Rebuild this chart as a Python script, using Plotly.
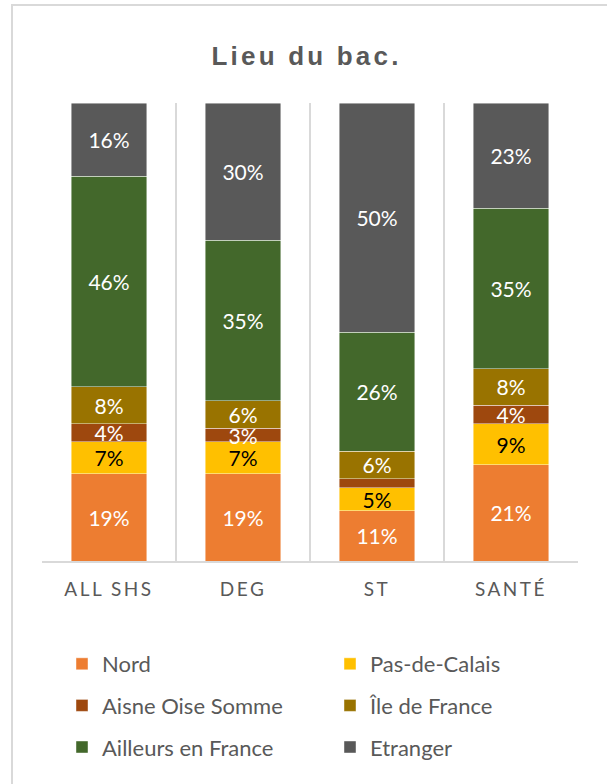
import plotly.graph_objects as go

categories = ["ALL SHS", "DEG", "ST", "SANTÉ"]
series_names = ["Nord", "Pas-de-Calais", "Aisne Oise Somme", "Île de France", "Ailleurs en France", "Etranger"]
nord = [19, 19, 11, 21]
pas_de_calais = [7, 7, 5, 9]
aisne_oise_somme = [4, 3, 2, 4]
ile_de_france = [8, 6, 6, 8]
ailleurs_en_france = [46, 35, 26, 35]
etranger = [16, 30, 50, 23]
# which segments carry a data label in the source
show_label = [
    [True, True, True, True],
    [True, True, True, True],
    [True, True, False, True],
    [True, True, True, True],
    [True, True, True, True],
    [True, True, True, True],
]

series_values = [nord, pas_de_calais, aisne_oise_somme, ile_de_france, ailleurs_en_france, etranger]
colors = ["#ED7D31", "#FFC000", "#9E480E", "#997300", "#43682B", "#595959"]
text_colors = ["white", "black", "white", "white", "white", "white"]
legend_ids = ["legend", "legend2", "legend", "legend2", "legend", "legend2"]

FONT = "Lato"
GRAY = "#595959"

fig = go.Figure()
for i, (name, vals) in enumerate(zip(series_names, series_values)):
    labels = [f"{v}%" if s else "" for v, s in zip(vals, show_label[i])]
    fig.add_trace(go.Bar(
        name=name,
        x=categories,
        y=vals,
        text=labels,
        textposition="inside",
        insidetextanchor="middle",
        textangle=0,
        constraintext="none",
        textfont=dict(family=FONT, size=21, color=text_colors[i]),
        marker=dict(color=colors[i], line=dict(color="rgba(255,255,255,0.55)", width=0.8)),
        legend=legend_ids[i],
        legendgroup=name,
        hoverinfo="skip",
    ))

legend_common = dict(
    orientation="v",
    traceorder="grouped",
    tracegroupgap=10,
    font=dict(family=FONT, size=22, color=GRAY),
    yanchor="top",
    xanchor="left",
    bgcolor="rgba(0,0,0,0)",
    itemwidth=30,
)

fig.update_layout(
    width=607,
    height=784,
    margin=dict(l=42, r=29, t=103, b=223),
    paper_bgcolor="white",
    plot_bgcolor="white",
    barmode="stack",
    bargap=0.44,
    title=dict(
        text="<b>Lieu du bac.</b>",
        x=0.505, xanchor="center",
        y=1 - 56 / 784, yanchor="middle",
        font=dict(family="Liberation Sans", size=26, color=GRAY),
    ),
    xaxis=dict(
        type="category",
        showgrid=True,
        tickson="boundaries",
        gridcolor="#D9D9D9",
        gridwidth=1.5,
        showline=True,
        linecolor="#D9D9D9",
        linewidth=1.5,
        ticks="",
        ticklabelstandoff=10,
        tickfont=dict(family=FONT, size=19, color=GRAY),
    ),
    yaxis=dict(visible=False, range=[0, 100], showgrid=False, zeroline=False),
    legend=dict(x=(62 - 42) / 536, y=(561 - 643) / 458, **legend_common),
    legend2=dict(x=(330 - 42) / 536, y=(561 - 643) / 458, **legend_common),
    showlegend=True,
    shapes=[dict(
        type="rect", xref="paper", yref="paper",
        x0=(12 - 42) / 536, x1=1.2,
        y0=-0.7, y1=1 + (103 - 5) / 458,
        line=dict(color="#D9D9D9", width=2),
        fillcolor="rgba(0,0,0,0)",
        layer="below",
    )],
)

post = """
document.body.style.margin = '0';
document.documentElement.style.margin = '0';
var s = document.createElement('style');
s.textContent = 'body{margin:0 !important;} .gtitle{letter-spacing:3.2px;} .xtick text{letter-spacing:2.5px;}';
document.head.appendChild(s);
"""

fig.write_html("out.html", post_script=post, config={"displayModeBar": False})
